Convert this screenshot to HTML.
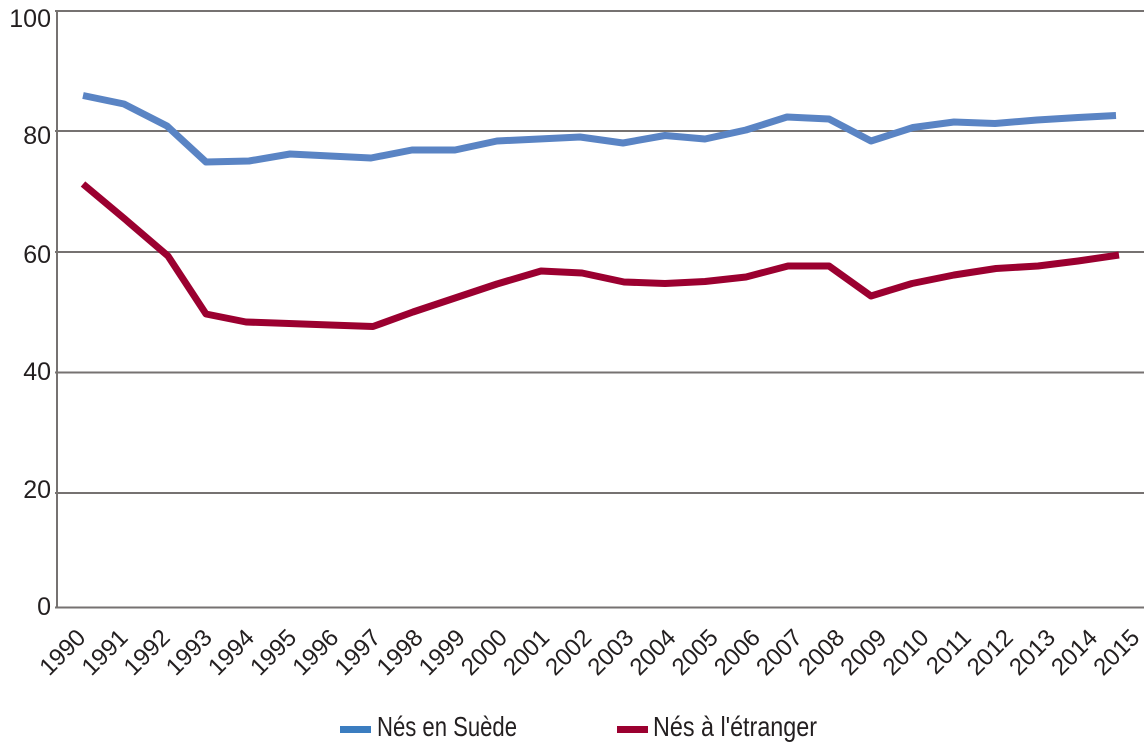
<!DOCTYPE html>
<html>
<head>
<meta charset="utf-8">
<style>
  html, body { margin:0; padding:0; background:#ffffff; }
  body { width:1144px; height:747px; overflow:hidden; }
  svg { display:block; }
  text { font-family: "Liberation Sans", "DejaVu Sans", sans-serif; fill:#231f20; }
</style>
</head>
<body>
<svg width="1144" height="747" viewBox="0 0 1144 747" xmlns="http://www.w3.org/2000/svg">
  <!-- gridlines -->
  <g stroke="#767271" stroke-width="2" fill="none">
    <line x1="55" y1="11" x2="1144" y2="11"/>
    <line x1="55" y1="131" x2="1144" y2="131"/>
    <line x1="55" y1="252" x2="1144" y2="252"/>
    <line x1="55" y1="372.5" x2="1144" y2="372.5"/>
    <line x1="55" y1="493" x2="1144" y2="493"/>
    <line x1="55" y1="607.5" x2="1144" y2="607.5"/>
    <line x1="57" y1="10" x2="57" y2="608.5"/>
  </g>

  <!-- y labels -->
  <g font-size="25" text-anchor="end">
    <text x="51" y="27">100</text>
    <text x="51" y="144">80</text>
    <text x="51" y="263">60</text>
    <text x="51" y="380">40</text>
    <text x="51" y="498">20</text>
    <text x="51" y="615">0</text>
  </g>

  <!-- series -->
  <polyline fill="none" stroke="#5a84c4" stroke-width="7" stroke-linejoin="round" stroke-linecap="butt"
    points="83,95.5 124,104 167,126 206,162 249,161 290,154 330,156 371,158 412,150 455,150 497,141 539,139 580,137 623,143 665,135.5 705,139 746,130 787,117 829,119 871,141 913,127.5 954,122 995,123.5 1037,120 1078,117.5 1116,115.5"/>
  <polyline fill="none" stroke="#9b0030" stroke-width="7" stroke-linejoin="round" stroke-linecap="butt"
    points="83,184 126,220 168,256 206,314 246,322 289,323.5 330,325 373,326.5 413,312 455,298 497,284 541,271 582,273 624,282 665,283.5 705,281.5 746,277 788,266 829,266 871,296 912,283.5 954,275 996,268.5 1038,266 1078,261 1119,255"/>

  <!-- x labels -->
  <g font-size="24" text-anchor="end">
    <text transform="translate(87,639) rotate(-45)">1990</text>
    <text transform="translate(129.2,639) rotate(-45)">1991</text>
    <text transform="translate(171.3,639) rotate(-45)">1992</text>
    <text transform="translate(213.5,639) rotate(-45)">1993</text>
    <text transform="translate(255.6,639) rotate(-45)">1994</text>
    <text transform="translate(297.8,639) rotate(-45)">1995</text>
    <text transform="translate(340,639) rotate(-45)">1996</text>
    <text transform="translate(382.1,639) rotate(-45)">1997</text>
    <text transform="translate(424.3,639) rotate(-45)">1998</text>
    <text transform="translate(466.4,639) rotate(-45)">1999</text>
    <text transform="translate(508.6,639) rotate(-45)">2000</text>
    <text transform="translate(550.8,639) rotate(-45)">2001</text>
    <text transform="translate(592.9,639) rotate(-45)">2002</text>
    <text transform="translate(635.1,639) rotate(-45)">2003</text>
    <text transform="translate(677.2,639) rotate(-45)">2004</text>
    <text transform="translate(719.4,639) rotate(-45)">2005</text>
    <text transform="translate(761.6,639) rotate(-45)">2006</text>
    <text transform="translate(803.7,639) rotate(-45)">2007</text>
    <text transform="translate(845.9,639) rotate(-45)">2008</text>
    <text transform="translate(888,639) rotate(-45)">2009</text>
    <text transform="translate(930.2,639) rotate(-45)">2010</text>
    <text transform="translate(972.4,639) rotate(-45)">2011</text>
    <text transform="translate(1014.5,639) rotate(-45)">2012</text>
    <text transform="translate(1056.7,639) rotate(-45)">2013</text>
    <text transform="translate(1098.8,639) rotate(-45)">2014</text>
    <text transform="translate(1141,639) rotate(-45)">2015</text>
  </g>

  <!-- legend -->
  <rect x="340" y="726" width="31" height="7" fill="#3b7dc0"/>
  <text x="377" y="736" font-size="28" textLength="140" lengthAdjust="spacingAndGlyphs">Nés en Suède</text>
  <rect x="617" y="726" width="31" height="7" fill="#9b0030"/>
  <text x="653" y="736" font-size="28" textLength="164" lengthAdjust="spacingAndGlyphs">Nés à l'étranger</text>
</svg>
</body>
</html>
